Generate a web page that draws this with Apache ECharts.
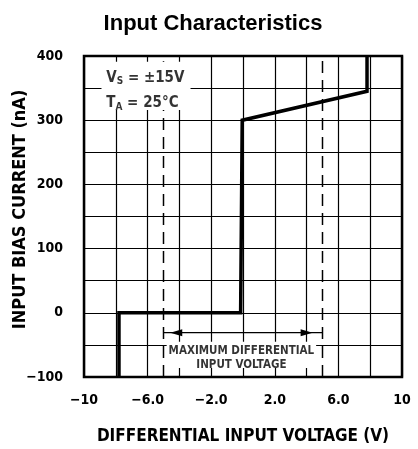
<!DOCTYPE html>
<html>
<head>
<meta charset="utf-8">
<script src="https://cdn.jsdelivr.net/npm/echarts@6/dist/echarts.min.js"></script>
<style>
html, body { margin: 0; padding: 0; background: #fff; }
#chart { width: 418px; height: 449px; }
</style>
</head>
<body>
<div id="chart"></div>
<script>
// curve: input bias current (nA) vs differential input voltage (V)
var curveX = [-7.8, -7.8, -0.15, -0.05, 7.8, 7.8];
var curveY = [-100, 0, 0, 300, 345, 400];

// max differential input voltage limits (dashed)
var limitX = [-5, 5];
var arrowY = -31;

var xTickValues = [-10, -6, -2, 2, 6, 10];
var xTickLabels = ['\u221210', '\u22126.0', '\u22122.0', '2.0', '6.0', '10'];
var yTickValues = [-100, 0, 100, 200, 300, 400];
var yTickLabels = ['\u2212100', '0', '100', '200', '300', '400'];

var noteX = [-8.6, -8.6];
var noteY = [366, 326];
var noteText = ['{v|V}{s|S}{v| = \u00b115V}', '{v|T}{s|A}{v| = 25\u00b0C}'];

var boxText = 'MAXIMUM DIFFERENTIAL\nINPUT VOLTAGE';

var chart = echarts.init(document.getElementById('chart'));
var fontC = '"DejaVu Sans Condensed", "DejaVu Sans", sans-serif';

function pairs(xs, ys) {
    var out = [];
    for (var i = 0; i < xs.length; i++) {
        out.push([xs[i], ys[i]]);
    }
    return out;
}

var series = [];

// dashed limit lines
limitX.forEach(function (x) {
    series.push({
        type: 'line',
        data: [[x, -100], [x, 400]],
        symbol: 'none',
        z: 1,
        silent: true,
        lineStyle: { color: '#000', width: 1.5, type: [12, 7] }
    });
});

// white patches behind the notes
series.push({
    type: 'line',
    data: [],
    markArea: {
        z: 2,
        silent: true,
        itemStyle: { color: '#fff' },
        data: [
            [{ coord: [-8.9, 316] }, { coord: [-3.3, 391] }],
            [{ coord: [-4.8, -45] }, { coord: [4.6, -86] }]
        ]
    }
});

// the curve
series.push({
    type: 'line',
    data: pairs(curveX, curveY),
    symbol: 'none',
    z: 5,
    lineStyle: { color: '#000', width: 3.5, join: 'miter' }
});

// dimension line with arrows
series.push({
    type: 'line',
    data: [[limitX[0], arrowY], [limitX[1], arrowY]],
    symbol: 'none',
    z: 4,
    lineStyle: { color: '#000', width: 1.3 },
    markPoint: {
        z: 4,
        silent: true,
        symbol: 'triangle',
        symbolSize: [7, 12],
        itemStyle: { color: '#000' },
        label: { show: false },
        data: [
            { coord: [-4.2, arrowY], symbolRotate: 90 },
            { coord: [4.0, arrowY], symbolRotate: -90 }
        ]
    }
});

// notes
series.push({
    type: 'scatter',
    symbolSize: 0,
    z: 6,
    silent: true,
    data: noteX.map(function (x, i) {
        return { value: [x, noteY[i]], label: { formatter: noteText[i] } };
    }),
    label: {
        show: true,
        position: 'right',
        distance: 0,
        rich: {
            v: { fontFamily: fontC, fontWeight: 'bold', fontSize: 15, color: '#000', lineHeight: 18 },
            s: { fontFamily: fontC, fontWeight: 'bold', fontSize: 10, color: '#000', verticalAlign: 'bottom', lineHeight: 18, padding: [8, 0, 0, 0] }
        }
    }
});

series.push({
    type: 'scatter',
    symbolSize: 0,
    z: 6,
    silent: true,
    data: [[-0.1, -70]],
    label: {
        show: true,
        position: 'inside',
        formatter: boxText,
        fontFamily: fontC,
        fontWeight: 'bold',
        fontSize: 11.5,
        lineHeight: 14,
        color: '#000',
        align: 'center'
    }
});

var option = {
    animation: false,
    title: {
        text: 'Input Characteristics',
        left: 208,
        textAlign: 'center',
        top: 8,
        textStyle: { fontFamily: '"Liberation Sans", Arial, sans-serif', fontWeight: 'bold', fontSize: 22, color: '#000' }
    },
    grid: {
        left: 84, right: 16, top: 56, bottom: 72,
        outerBoundsMode: 'none',
        show: true,
        borderColor: '#000',
        borderWidth: 2.5,
        backgroundColor: 'transparent'
    },
    xAxis: {
        type: 'value',
        min: -10, max: 10, interval: 2,
        name: 'DIFFERENTIAL INPUT VOLTAGE (V)',
        nameLocation: 'middle',
        nameGap: 51,
        nameMoveOverlap: false,
        nameTextStyle: { fontFamily: fontC, fontWeight: 'bold', fontSize: 17, color: '#000' },
        axisLine: { show: false },
        axisTick: { show: false },
        splitLine: { show: true, lineStyle: { color: '#000', width: 1.2 } },
        axisLabel: {
            margin: 16,
            fontFamily: fontC, fontWeight: 'bold', fontSize: 14, color: '#000',
            formatter: function (v) {
                var i = xTickValues.indexOf(v);
                return i < 0 ? '' : xTickLabels[i];
            }
        }
    },
    yAxis: {
        type: 'value',
        min: -100, max: 400, interval: 50,
        name: 'INPUT BIAS CURRENT (nA)',
        nameLocation: 'middle',
        nameGap: 55,
        nameMoveOverlap: false,
        nameTextStyle: { fontFamily: fontC, fontWeight: 'bold', fontSize: 18, color: '#000', padding: [0, 0, 0, 14] },
        axisLine: { show: false },
        axisTick: { show: false },
        splitLine: { show: true, lineStyle: { color: '#000', width: 1.2 } },
        axisLabel: {
            margin: 21,
            fontFamily: fontC, fontWeight: 'bold', fontSize: 14, color: '#000',
            formatter: function (v) {
                var i = yTickValues.indexOf(v);
                return i < 0 ? '' : yTickLabels[i];
            }
        }
    },
    series: series
};

chart.setOption(option);
</script>
</body>
</html>
